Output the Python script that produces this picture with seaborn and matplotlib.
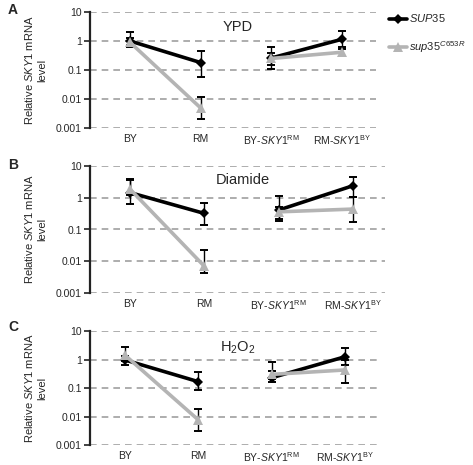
import numpy as np
import pandas as pd
import matplotlib
matplotlib.use("Agg")
import matplotlib.pyplot as plt
from matplotlib.lines import Line2D
import seaborn as sns

# ---------------- data ----------------
categories = ["BY", "RM", "BY-SKY1RM", "RM-SKY1BY"]
tick_labels = ["BY", "RM", r"BY-$\mathit{SKY1}^{\mathrm{RM}}$", r"RM-$\mathit{SKY1}^{\mathrm{BY}}$"]
segments = ["parental", "parental", "swap", "swap"]
strains = ["SUP35", "sup35C653R"]
conditions = ["YPD", "Diamide", "H$_2$O$_2$"]
panel_letters = ["A", "B", "C"]

# YPD
ypd_wt = [1.0, 0.18, 0.26, 1.15]
ypd_wt_lo = [0.6, 0.057, 0.11, 0.63]
ypd_wt_hi = [2.0, 0.45, 0.6, 2.2]
ypd_mut = [0.9, 0.0049, 0.25, 0.41]
ypd_mut_lo = [0.7, 0.002, 0.15, 0.3]
ypd_mut_hi = [1.3, 0.012, 0.4, 0.55]

# Diamide
dia_wt = [1.45, 0.32, 0.41, 2.4]
dia_wt_lo = [0.62, 0.135, 0.22, 1.07]
dia_wt_hi = [3.9, 0.67, 1.16, 4.6]
dia_mut = [1.85, 0.0069, 0.36, 0.44]
dia_mut_lo = [1.2, 0.0042, 0.19, 0.17]
dia_mut_hi = [3.5, 0.022, 0.5, 1.07]

# H2O2
h2o2_wt = [0.96, 0.166, 0.23, 1.25]
h2o2_wt_lo = [0.64, 0.085, 0.16, 0.64]
h2o2_wt_hi = [1.3, 0.35, 0.84, 2.5]
h2o2_mut = [1.4, 0.0075, 0.3, 0.43]
h2o2_mut_lo = [0.9, 0.003, 0.2, 0.15]
h2o2_mut_hi = [2.7, 0.019, 0.4, 1.0]

panels = [
    (ypd_wt, ypd_wt_lo, ypd_wt_hi, ypd_mut, ypd_mut_lo, ypd_mut_hi),
    (dia_wt, dia_wt_lo, dia_wt_hi, dia_mut, dia_mut_lo, dia_mut_hi),
    (h2o2_wt, h2o2_wt_lo, h2o2_wt_hi, h2o2_mut, h2o2_mut_lo, h2o2_mut_hi),
]

y_ticks = [0.001, 0.01, 0.1, 1, 10]
y_ticklabels = ["0.001", "0.01", "0.1", "1", "10"]

# ---------------- style ----------------
sns.set_theme(style="white")
plt.rcParams["font.family"] = ["Liberation Sans", "DejaVu Sans"]
plt.rcParams["mathtext.fontset"] = "custom"
plt.rcParams["mathtext.rm"] = "Liberation Sans"
plt.rcParams["mathtext.it"] = "Liberation Sans:italic"
plt.rcParams["mathtext.bf"] = "Liberation Sans:bold"

W, H = 473, 465
fig = plt.figure(figsize=(W / 100, H / 100), dpi=100)

# axes boxes in pixels: left, right, top, bottom
boxes = [(90, 376, 12, 128), (90, 385, 166, 293), (90, 381, 331, 445)]
xlims = [(-0.566, 3.48), (-0.54, 3.43), (-0.48, 3.49)]
cond_pos = [(238, 27), (243, 180), (238, 348)]
letter_pos = [(8, 10), (8, 165), (8, 327)]

palette = {"SUP35": "#000000", "sup35C653R": "#b4b4b4"}
markers = {"SUP35": "D", "sup35C653R": "^"}
msizes = {"SUP35": 5.5, "sup35C653R": 7.5}

xpos = np.arange(len(categories))

for i, (vals, box) in enumerate(zip(panels, boxes)):
    l, r, t, b = box
    ax = fig.add_axes([l / W, 1 - b / H, (r - l) / W, (b - t) / H])
    wt, wt_lo, wt_hi, mut, mut_lo, mut_hi = vals
    rows = []
    for s, v in zip(strains, [wt, mut]):
        for k in range(len(categories)):
            rows.append({"x": xpos[k], "value": v[k], "strain": s, "segment": segments[k]})
    df = pd.DataFrame(rows)

    ax.set_yscale("log")
    for y in y_ticks:
        ax.axhline(y, color="#a0a0a0", lw=1.2, ls=(0, (4, 3)), zorder=0)

    for s, v, lo, hi in [("SUP35", wt, wt_lo, wt_hi), ("sup35C653R", mut, mut_lo, mut_hi)]:
        v = np.array(v); lo = np.array(lo); hi = np.array(hi)
        ax.errorbar(xpos, v, yerr=[v - lo, hi - v], fmt="none", ecolor="black",
                    elinewidth=1.0, capsize=3, capthick=1.4, zorder=2)

    for s in strains:
        sub = df[df["strain"] == s]
        sns.lineplot(data=sub, x="x", y="value", units="segment", estimator=None,
                     color=palette[s], lw=2.6, marker=markers[s], markersize=msizes[s],
                     markeredgewidth=0, ax=ax, legend=False, zorder=3, sort=False)

    ax.set_ylim(0.001, 10)
    ax.set_yticks(y_ticks)
    ax.set_yticklabels(y_ticklabels)
    ax.minorticks_off()
    ax.set_xlim(*xlims[i])
    ax.set_xticks(xpos)
    ax.set_xticklabels(tick_labels)
    ax.set_xlabel("")
    ax.set_ylabel("Relative $\\mathit{SKY1}$ mRNA\nlevel", fontsize=8, labelpad=6,
                  linespacing=1.3)
    for sp in ["top", "right", "bottom"]:
        ax.spines[sp].set_visible(False)
    ax.spines["left"].set_color("#222222")
    ax.spines["left"].set_linewidth(1.6)
    ax.tick_params(axis="y", which="major", left=True, length=4, width=1.2,
                   color="#222222", labelsize=7.5, pad=2)
    ax.tick_params(axis="x", which="both", bottom=False, length=0, labelsize=7.5, pad=4)
    ax.grid(False)

    cx, cy = cond_pos[i]
    fig.text(cx / W, 1 - cy / H, conditions[i], ha="center", va="center", fontsize=10.5)
    lx, ly = letter_pos[i]
    fig.text(lx / W, 1 - ly / H, panel_letters[i], ha="left", va="center",
             fontsize=10, fontweight="bold")

handles = [
    Line2D([], [], color="#000000", lw=2.6, marker="D", markersize=5, markeredgewidth=0),
    Line2D([], [], color="#b4b4b4", lw=2.6, marker="^", markersize=7, markeredgewidth=0),
]
labels = [r"$\mathit{SUP35}$", r"$\mathit{sup35}^{\mathit{C653R}}$"]
fig.legend(handles, labels, loc="upper left", bbox_to_anchor=(385 / W, 1 - 8 / H),
           frameon=False, handlelength=1.6, handletextpad=0.15, labelspacing=1.3,
           fontsize=8, borderaxespad=0)

fig.savefig("out.png", dpi=100)
